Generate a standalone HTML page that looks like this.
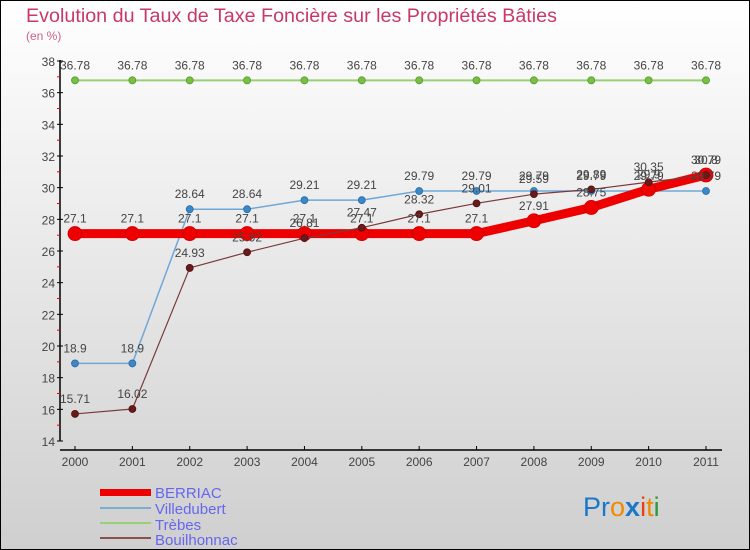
<!DOCTYPE html>
<html><head><meta charset="utf-8"><style>
body{margin:0}
#c{width:750px;height:550px;position:relative;overflow:hidden;background:linear-gradient(#ffffff,#cfcfcf);font-family:"Liberation Sans",sans-serif;box-sizing:border-box;border:1px solid #000}
</style></head><body>
<div id="c">
<svg id="s" width="750" height="550" style="position:absolute;left:-1px;top:-1px">
<text x="26" y="22" font-size="19" fill="#c8386a" textLength="531" lengthAdjust="spacingAndGlyphs">Evolution du Taux de Taxe Foncière sur les Propriétés Bâties</text>
<text x="26" y="40" font-size="12" fill="#d0608a">(en %)</text>
<g id="axes"></g><g id="series"></g><g id="labels"></g>
<g>
<rect x="100" y="489" width="51" height="7" fill="#ee0000"/>
<text x="155" y="498" font-size="15" fill="#6666ee">BERRIAC</text>
<rect x="100" y="507" width="51" height="2" fill="#7aaed0"/>
<text x="155" y="514" font-size="15" fill="#6666ee">Villedubert</text>
<rect x="100" y="522" width="51" height="2" fill="#99d077"/>
<text x="155" y="530" font-size="15" fill="#6666ee">Trèbes</text>
<rect x="100" y="537" width="51" height="2" fill="#8a5050"/>
<text x="155" y="545" font-size="15" fill="#6666ee">Bouilhonnac</text>
</g>
<g font-size="27" font-family="Liberation Sans, sans-serif">
<text x="583" y="516"><tspan fill="#1a78c8">Pr</tspan><tspan fill="#f08a00">o</tspan><tspan fill="#1a78c8" font-weight="bold">x</tspan><tspan fill="#e84010">i</tspan><tspan fill="#f08a00">t</tspan><tspan fill="#2a9a3a">i</tspan></text>
</g>
</svg>
</div>
<script>
const years=[2000,2001,2002,2003,2004,2005,2006,2007,2008,2009,2010,2011];
const berriac=[27.1,27.1,27.1,27.1,27.1,27.1,27.1,27.1,27.91,28.75,29.9,30.8];
const villedubert=[18.9,18.9,28.64,28.64,29.21,29.21,29.79,29.79,29.79,29.79,29.79,29.79];
const trebes=[36.78,36.78,36.78,36.78,36.78,36.78,36.78,36.78,36.78,36.78,36.78,36.78];
const bouilhonnac=[15.71,16.02,24.93,25.92,26.81,27.47,28.32,29.01,29.59,29.89,30.35,30.79];
const yTicks=[14,16,18,20,22,24,26,28,30,32,34,36,38];
const NS="http://www.w3.org/2000/svg";
const xs=i=>75+i*(631/11);
const ys=v=>441-(v-14)*(380/24);
function mk(t,a,p){const e=document.createElementNS(NS,t);for(const k in a)e.setAttribute(k,a[k]);p.appendChild(e);return e;}
const ax=document.getElementById('axes');
const yl=mk('line',{x1:60,y1:60,x2:60,y2:441,stroke:'#000','stroke-width':1.5},ax);


const xl=mk('line',{x1:60,y1:450,x2:722,y2:450,stroke:'#000','stroke-width':1.5},ax);


yTicks.forEach(v=>{
  mk('line',{x1:57,x2:63,y1:ys(v),y2:ys(v),stroke:'#000'},ax);
  if(v<38)mk('line',{x1:57,x2:60,y1:ys(v+1),y2:ys(v+1),stroke:'#e00'},ax);
  const t=mk('text',{x:55,y:ys(v)+5,'text-anchor':'end','font-size':12,fill:'#444'},ax);
  t.textContent=v;
  
  
});
years.forEach((y,i)=>{
  mk('line',{x1:xs(i),x2:xs(i),y1:446,y2:450,stroke:'#000'},ax);
  const t=mk('text',{x:xs(i),y:466,'text-anchor':'middle','font-size':12,fill:'#444'},ax);
  t.textContent=y;
  
  
});
const sg=document.getElementById('series'),lg=document.getElementById('labels');
function series(name,vals,color,w,r,dot,lcol){
  const g=mk('g',{},sg);
  
  
  mk('polyline',{points:vals.map((v,i)=>xs(i)+','+ys(v)).join(' '),fill:'none',stroke:color,'stroke-width':w,'stroke-linejoin':'round'},g);
  vals.forEach((v,i)=>{
    const c=mk('circle',{cx:xs(i),cy:ys(v),r:r,fill:dot,stroke:lcol,'stroke-width':0.8},g);
    
    
    const t=mk('text',{x:xs(i),y:ys(v)-11,'text-anchor':'middle','font-size':12,fill:'#444'},lg);
    t.textContent=v;
    
    
  });
}
series('trebes',trebes,'#99d077',2,3.5,'#77c044','#5a9a30');
series('villedubert',villedubert,'#6fa8d8',1.5,3.5,'#3a88c8','#2a6aa0');
series('berriac',berriac,'#ee0000',9,7,'#ee0000','#cc0000');
series('bouilhonnac',bouilhonnac,'#7a3a3a',1.2,3.5,'#6a1a1a','#501010');
</script>
</body></html>
